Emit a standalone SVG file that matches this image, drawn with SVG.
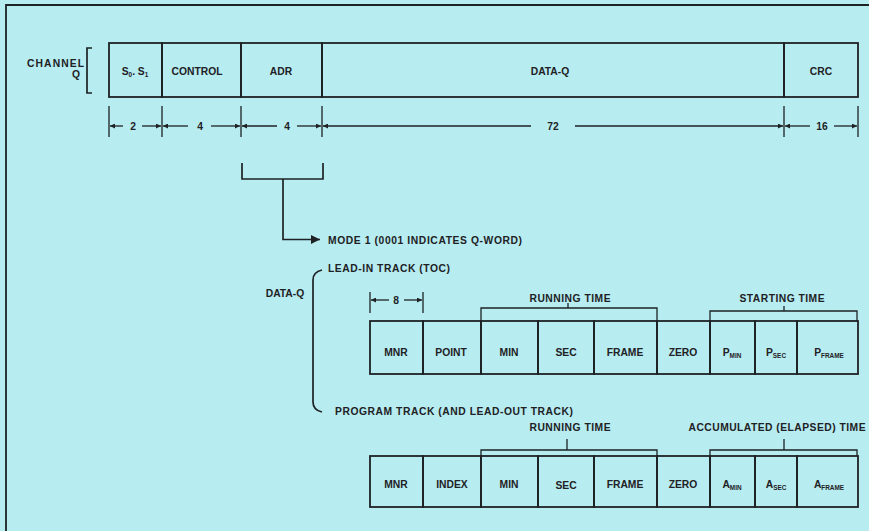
<svg xmlns="http://www.w3.org/2000/svg" width="869" height="531" viewBox="0 0 869 531">
<style>
.bg{fill:#b7ecf1}
.f{fill:none;stroke:#1e2224;stroke-width:1.8}
.l{fill:none;stroke:#1e2224;stroke-width:1.7}
.d{fill:none;stroke:#1e2224;stroke-width:1.3}
.t{font-family:"Liberation Sans",Arial,sans-serif;font-weight:bold;font-size:10.3px;fill:#1e2224;text-anchor:middle}
.s{font-size:6.4px}
.st{text-anchor:start}
.en{text-anchor:end}
</style>
<defs>
<marker id="ah" viewBox="0 0 10 10" refX="10" refY="5" markerWidth="7" markerHeight="5" markerUnits="userSpaceOnUse" orient="auto"><path d="M0,0L10,5L0,10z" fill="#1e2224"/></marker>
<marker id="big" viewBox="0 0 10 10" refX="10" refY="5" markerWidth="15" markerHeight="9" markerUnits="userSpaceOnUse" orient="auto"><path d="M0,0L10,5L0,10z" fill="#1e2224"/></marker>
</defs>
<rect class="bg" x="0" y="0" width="869" height="531"/>
<path class="f" d="M6,531V5H869"/>

<g id="channel-q-label">
<text class="t en" x="84" y="67" textLength="57" lengthAdjust="spacing">CHANNEL</text>
<text class="t en" x="80" y="78">Q</text>
<path class="l" d="M92,48H87V93H92"/>
</g>

<g id="channel-q-row">
<g id="f-s0s1"><rect class="f" x="109" y="43" width="53" height="54"/><text class="t" x="135" y="75">S<tspan class="s" dy="2">0</tspan><tspan dy="-2">. S</tspan><tspan class="s" dy="2">1</tspan></text></g>
<g id="f-control"><rect class="f" x="162" y="43" width="79" height="54"/><text class="t" x="197" y="75">CONTROL</text></g>
<g id="f-adr"><rect class="f" x="241" y="43" width="81" height="54"/><text class="t" x="281" y="75">ADR</text></g>
<g id="f-dataq"><rect class="f" x="322" y="43" width="462" height="54"/><text class="t" x="550" y="75">DATA-Q</text></g>
<g id="f-crc"><rect class="f" x="784" y="43" width="74" height="54"/><text class="t" x="821" y="75">CRC</text></g>
</g>

<g id="dimensions">
<path class="d" d="M109,106V137M162,106V137M241,106V137M322,106V137M784,106V137M858,106V137"/>
<line class="d" x1="123" y1="126" x2="110" y2="126" marker-end="url(#ah)"/>
<line class="d" x1="142" y1="126" x2="161" y2="126" marker-end="url(#ah)"/>
<text class="t" x="133" y="129.5">2</text>
<line class="d" x1="188" y1="126" x2="163" y2="126" marker-end="url(#ah)"/>
<line class="d" x1="211" y1="126" x2="240" y2="126" marker-end="url(#ah)"/>
<text class="t" x="200" y="129.5">4</text>
<line class="d" x1="277" y1="126" x2="242" y2="126" marker-end="url(#ah)"/>
<line class="d" x1="297" y1="126" x2="321" y2="126" marker-end="url(#ah)"/>
<text class="t" x="287" y="129.5">4</text>
<line class="d" x1="531" y1="126" x2="323" y2="126" marker-end="url(#ah)"/>
<line class="d" x1="575" y1="126" x2="783" y2="126" marker-end="url(#ah)"/>
<text class="t" x="553" y="129.5">72</text>
<line class="d" x1="810" y1="126" x2="785" y2="126" marker-end="url(#ah)"/>
<line class="d" x1="834" y1="126" x2="857" y2="126" marker-end="url(#ah)"/>
<text class="t" x="822" y="129.5">16</text>
</g>

<g id="connectors">
<path class="l" d="M242,163V179H323V163"/>
<path class="l" d="M283,179V239.5H320" marker-end="url(#big)"/>
<path class="l" d="M322,270Q313,272 313,280V402Q313,410 322,412"/>
</g>

<g id="mode-label"><text class="t st" x="328" y="243.5" textLength="194" lengthAdjust="spacing">MODE 1 (0001 INDICATES Q-WORD)</text></g>
<g id="leadin-label"><text class="t st" x="328" y="272" textLength="122" lengthAdjust="spacing">LEAD-IN TRACK (TOC)</text></g>
<g id="dataq-label"><text class="t" x="285" y="297">DATA-Q</text></g>
<g id="program-label"><text class="t st" x="335" y="415" textLength="238" lengthAdjust="spacing">PROGRAM TRACK (AND LEAD-OUT TRACK)</text></g>

<g id="dim-8">
<path class="d" d="M370,292V313M423,292V313"/>
<line class="d" x1="389" y1="300" x2="371" y2="300" marker-end="url(#ah)"/>
<line class="d" x1="404" y1="300" x2="422" y2="300" marker-end="url(#ah)"/>
<text class="t" x="396" y="303.5">8</text>
</g>

<g id="leadin-brackets">
<text class="t" x="570" y="302" textLength="81" lengthAdjust="spacing">RUNNING TIME</text>
<path class="d" d="M481,321V308H657V321M568,303V308"/>
<text class="t" x="782" y="302" textLength="85" lengthAdjust="spacing">STARTING TIME</text>
<path class="d" d="M710,321V311H857V321M784,306V311"/>
</g>

<g id="leadin-row">
<g id="l-mnr"><rect class="f" x="370" y="321" width="53" height="53"/><text class="t" x="396" y="356">MNR</text></g>
<g id="l-point"><rect class="f" x="423" y="321" width="58" height="53"/><text class="t" x="451" y="356">POINT</text></g>
<g id="l-min"><rect class="f" x="481" y="321" width="57" height="53"/><text class="t" x="509" y="356">MIN</text></g>
<g id="l-sec"><rect class="f" x="538" y="321" width="56" height="53"/><text class="t" x="566" y="356">SEC</text></g>
<g id="l-frame"><rect class="f" x="594" y="321" width="63" height="53"/><text class="t" x="625" y="356">FRAME</text></g>
<g id="l-zero"><rect class="f" x="657" y="321" width="53" height="53"/><text class="t" x="683" y="356">ZERO</text></g>
<g id="l-pmin"><rect class="f" x="710" y="321" width="45" height="53"/><text class="t" x="732" y="356">P<tspan class="s" dy="2">MIN</tspan></text></g>
<g id="l-psec"><rect class="f" x="755" y="321" width="42" height="53"/><text class="t" x="776" y="356">P<tspan class="s" dy="2">SEC</tspan></text></g>
<g id="l-pframe"><rect class="f" x="797" y="321" width="61" height="53"/><text class="t" x="829" y="356">P<tspan class="s" dy="2">FRAME</tspan></text></g>
</g>

<g id="program-brackets">
<text class="t" x="570" y="431" textLength="81" lengthAdjust="spacing">RUNNING TIME</text>
<path class="d" d="M481,456V450H657V456M567,439V450"/>
<text class="t" x="777" y="431" textLength="177" lengthAdjust="spacing">ACCUMULATED (ELAPSED) TIME</text>
<path class="d" d="M710,456V450H857V456M784,439V450"/>
</g>

<g id="program-row">
<g id="p-mnr"><rect class="f" x="370" y="456" width="53" height="51"/><text class="t" x="396" y="488">MNR</text></g>
<g id="p-index"><rect class="f" x="423" y="456" width="58" height="51"/><text class="t" x="452" y="488">INDEX</text></g>
<g id="p-min"><rect class="f" x="481" y="456" width="57" height="51"/><text class="t" x="509" y="488">MIN</text></g>
<g id="p-sec"><rect class="f" x="538" y="456" width="56" height="51"/><text class="t" x="566" y="488.5">SEC</text></g>
<g id="p-frame"><rect class="f" x="594" y="456" width="63" height="51"/><text class="t" x="625" y="488">FRAME</text></g>
<g id="p-zero"><rect class="f" x="657" y="456" width="53" height="51"/><text class="t" x="683" y="488">ZERO</text></g>
<g id="p-amin"><rect class="f" x="710" y="456" width="45" height="51"/><text class="t" x="732" y="488">A<tspan class="s" dy="2">MIN</tspan></text></g>
<g id="p-asec"><rect class="f" x="755" y="456" width="42" height="51"/><text class="t" x="776" y="488">A<tspan class="s" dy="2">SEC</tspan></text></g>
<g id="p-aframe"><rect class="f" x="797" y="456" width="61" height="51"/><text class="t" x="829" y="488">A<tspan class="s" dy="2">FRAME</tspan></text></g>
</g>
</svg>
